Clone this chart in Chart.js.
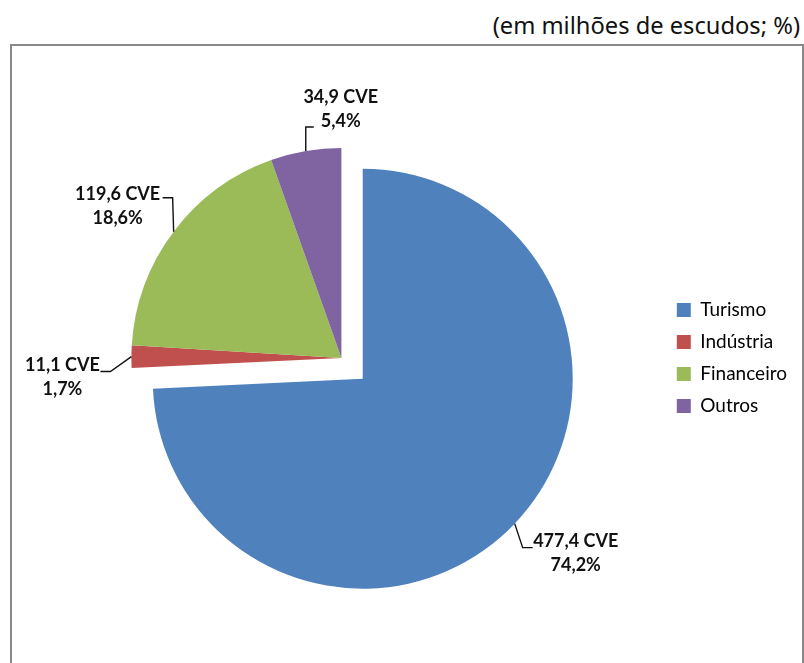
<!DOCTYPE html>
<html>
<head>
<meta charset="utf-8">
<script src="https://cdn.jsdelivr.net/npm/chart.js@4.4.1/dist/chart.umd.min.js"></script>
<style>
  body { margin: 0; background: #fff; }
  #wrap { position: relative; width: 804px; height: 663px; overflow: hidden; }
  #unit { position: absolute; right: 4px; top: 9px; font: 23.7px "Noto Sans", sans-serif; color: #111; }
  #box { position: absolute; left: 10px; top: 44px; width: 790px; height: 640px; border: 2px solid #898989; }
  canvas { position: absolute; left: 0; top: 0; }
</style>
</head>
<body>
<div id="wrap">
  <div id="unit">(em milhões de escudos; %)</div>
  <div id="box"></div>
  <canvas id="Chart1" width="804" height="663"></canvas>
  <canvas id="Chart2" width="804" height="663"></canvas>
</div>
<script>
const sectors = ['Turismo', 'Indústria', 'Financeiro', 'Outros']
const valuesCVE = [477.4, 11.1, 119.6, 34.9]
const shares = [74.2, 1.7, 18.6, 5.4]
const colors = ['#4F81BD', '#C0504D', '#9BBB59', '#8064A2']
const exploded = 0          // Turismo is pulled out of the pie
const explodeDist = 30

const pieCenter = [341, 358]
const pieRadius = 210

// where each label sits, relative to the middle of its slice's outer edge
const labelPos = [
    { text: [61, 18], line: [[8, 24], [18, 24]] },
    { text: [-69, 9], line: [[-21, 15], [-31, 15]] },
    { text: [-56, -37], line: [[-1, -34], [-11, -34]] },
    { text: [35, -54], line: [[0, -24], [8, -24]] }
]

const fmt = v => v.toFixed(1).replace('.', ',')

const sliceLabels = {
    id: 'sliceLabels',
    afterDatasetsDraw(chart, args, opts) {
        const ctx = chart.ctx
        const meta = chart.getDatasetMeta(0)
        ctx.save()
        ctx.font = 'bold 18px Lato'
        ctx.fillStyle = '#111'
        ctx.strokeStyle = '#111'
        ctx.lineWidth = 1.4
        ctx.textAlign = 'center'
        ctx.textBaseline = 'middle'
        meta.data.forEach((arc, i) => {
            if (!opts.show.includes(i)) return
            const {x, y, startAngle, endAngle, outerRadius} = arc.getProps(['x', 'y', 'startAngle', 'endAngle', 'outerRadius'], true)
            const mid = (startAngle + endAngle) / 2
            const ax = x + Math.cos(mid) * outerRadius
            const ay = y + Math.sin(mid) * outerRadius
            const p = labelPos[i]
            ctx.beginPath()
            ctx.moveTo(ax, ay)
            p.line.forEach(pt => ctx.lineTo(ax + pt[0], ay + pt[1]))
            ctx.stroke()
            ctx.fillText(fmt(valuesCVE[i]) + ' CVE', ax + p.text[0], ay + p.text[1])
            ctx.fillText(fmt(shares[i]) + '%', ax + p.text[0], ay + p.text[1] + 24)
        })
        ctx.restore()
    }
}

const total = valuesCVE.reduce((a, b) => a + b, 0)
const before = valuesCVE.slice(0, exploded).reduce((a, b) => a + b, 0)
const midAngle = (before + valuesCVE[exploded] / 2) / total * 2 * Math.PI
const shiftX = Math.sin(midAngle) * explodeDist
const shiftY = -Math.cos(midAngle) * explodeDist

const pieOptions = (padding, legend, show) => ({
    responsive: false,
    animation: false,
    devicePixelRatio: 1,
    layout: { padding },
    plugins: {
        tooltip: { enabled: false },
        sliceLabels: { show },
        legend: {
            display: legend,
            position: 'right',
            labels: {
                font: { family: 'Lato', size: 19 },
                color: '#111',
                boxWidth: 14,
                boxHeight: 14,
                padding: 13,
                generateLabels: chart => sectors.map((s, i) => ({
                    text: s,
                    fillStyle: colors[i],
                    strokeStyle: colors[i],
                    lineWidth: 0,
                    hidden: false,
                    index: i
                }))
            }
        }
    }
})

// the pie without Turismo, plus the legend
new Chart('Chart1', {
    type: 'pie',
    data: {
        labels: sectors,
        datasets: [{
            data: valuesCVE,
            backgroundColor: colors.map((c, i) => i === exploded ? 'rgba(0,0,0,0)' : c),
            borderWidth: 0,
            hoverOffset: 0
        }]
    },
    options: pieOptions({
        top: pieCenter[1] - pieRadius, bottom: 663 - pieCenter[1] - pieRadius,
        left: 19, right: 7
    }, true, [1, 2, 3]),
    plugins: [sliceLabels]
})

// Turismo alone, moved out along its middle
const cx = pieCenter[0] + shiftX
const cy = pieCenter[1] + shiftY
new Chart('Chart2', {
    type: 'pie',
    data: {
        labels: sectors,
        datasets: [{
            data: valuesCVE,
            backgroundColor: colors.map((c, i) => i === exploded ? c : 'rgba(0,0,0,0)'),
            borderWidth: 0,
            hoverOffset: 0
        }]
    },
    options: pieOptions({
        top: cy - pieRadius, bottom: 663 - cy - pieRadius,
        left: cx - pieRadius, right: 804 - cx - pieRadius
    }, false, [exploded]),
    plugins: [sliceLabels]
})
</script>
</body>
</html>
